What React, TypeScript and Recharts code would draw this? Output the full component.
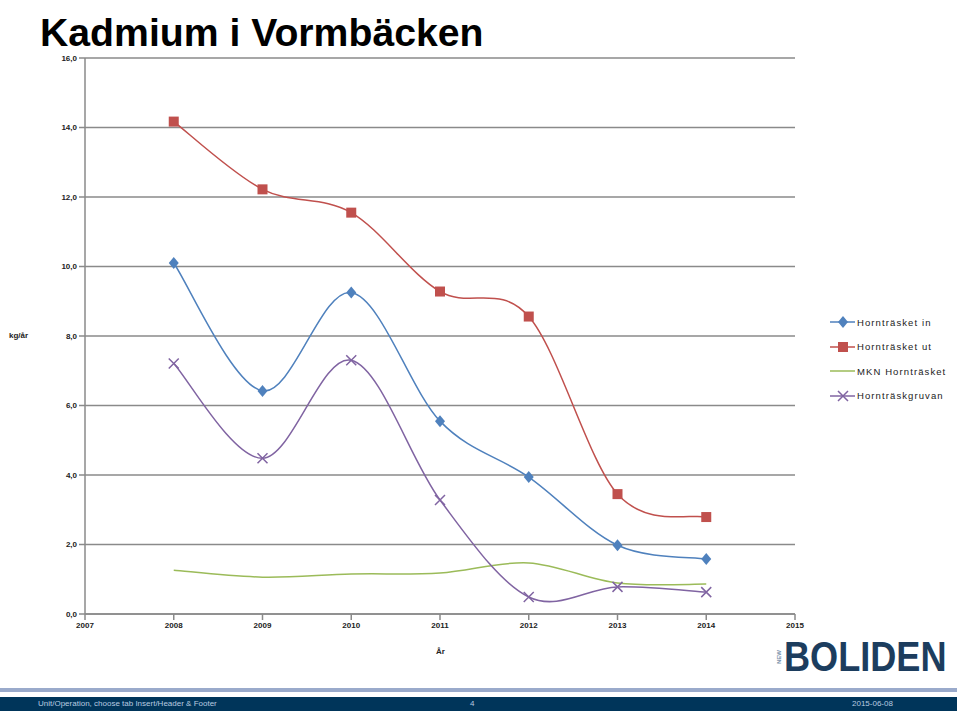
import { LineChart, Line, XAxis, YAxis, CartesianGrid } from 'recharts'

const years = [2008, 2009, 2010, 2011, 2012, 2013, 2014]
const hornIn = [10.1, 6.42, 9.25, 5.55, 3.94, 1.98, 1.58]
const hornUt = [14.17, 12.22, 11.55, 9.28, 8.56, 3.45, 2.79]
const mknHorn = [1.26, 1.06, 1.15, 1.18, 1.47, 0.89, 0.86]
const gruvan = [7.21, 4.48, 7.3, 3.28, 0.49, 0.78, 0.63]

const xTicks = [2007, 2008, 2009, 2010, 2011, 2012, 2013, 2014, 2015]
const yTicks = [0, 2, 4, 6, 8, 10, 12, 14, 16]

const data = years.map((year, i) => ({
  year,
  in: hornIn[i],
  ut: hornUt[i],
  mkn: mknHorn[i],
  gruvan: gruvan[i],
}))

const series = [
  { key: 'in', name: 'Hornträsket in', color: '#4F81BD', marker: 'diamond' },
  { key: 'ut', name: 'Hornträsket ut', color: '#C0504D', marker: 'square' },
  { key: 'mkn', name: 'MKN Hornträsket', color: '#9BBB59', marker: 'none' },
  { key: 'gruvan', name: 'Hornträskgruvan', color: '#8064A2', marker: 'x' },
]

// Excel-like smoothed line (Catmull-Rom through the points)
function excelSmooth(context: any) {
  let pts: number[][] = []
  return {
    areaStart() {},
    areaEnd() {},
    lineStart() {
      pts = []
    },
    point(x: number, y: number) {
      pts.push([+x, +y])
    },
    lineEnd() {
      if (!pts.length) return
      context.moveTo(pts[0][0], pts[0][1])
      for (let i = 0; i < pts.length - 1; i++) {
        const p0 = pts[i - 1] || pts[i]
        const p1 = pts[i]
        const p2 = pts[i + 1]
        const p3 = pts[i + 2] || pts[i + 1]
        context.bezierCurveTo(
          p1[0] + (p2[0] - p0[0]) / 6,
          p1[1] + (p2[1] - p0[1]) / 6,
          p2[0] - (p3[0] - p1[0]) / 6,
          p2[1] - (p3[1] - p1[1]) / 6,
          p2[0],
          p2[1]
        )
      }
    },
  }
}

function Marker({ cx, cy, type, color }: { cx: number; cy: number; type: string; color: string }) {
  if (cx == null || cy == null) return null
  if (type === 'diamond')
    return <path d={`M${cx},${cy - 6}L${cx + 5},${cy}L${cx},${cy + 6}L${cx - 5},${cy}Z`} fill={color} />
  if (type === 'square') return <rect x={cx - 5} y={cy - 5} width={10} height={10} fill={color} />
  if (type === 'x')
    return (
      <path
        d={`M${cx - 5},${cy - 5}L${cx + 5},${cy + 5}M${cx - 5},${cy + 5}L${cx + 5},${cy - 5}`}
        stroke={color}
        strokeWidth={1.5}
      />
    )
  return null
}

function LegendBox() {
  return (
    <div
      style={{
        position: 'absolute',
        left: 829,
        top: 310,
        width: 128,
        overflow: 'hidden',
        fontSize: 9.5,
        letterSpacing: 1.1,
        color: '#222',
      }}
    >
      {series.map((s) => (
        <div key={s.key} style={{ display: 'flex', alignItems: 'center', height: 24.5, whiteSpace: 'nowrap' }}>
          <svg width={27} height={12}>
            <line x1={1} y1={6} x2={26} y2={6} stroke={s.color} strokeWidth={1.5} />
            <Marker cx={14} cy={6} type={s.marker} color={s.color} />
          </svg>
          <span style={{ marginLeft: 1 }}>{s.name}</span>
        </div>
      ))}
    </div>
  )
}

const fmt = (v: number) => v.toFixed(1).replace('.', ',')

export default function App() {
  return (
    <div
      style={{
        position: 'absolute',
        left: 0,
        top: 0,
        width: 957,
        height: 711,
        overflow: 'hidden',
        background: '#fff',
        fontFamily: 'Liberation Sans, Arial, sans-serif',
      }}
    >
      <div style={{ position: 'absolute', left: 40, top: 11, fontSize: 39.2, fontWeight: 'bold', color: '#000', lineHeight: '44px' }}>
        Kadmium i Vormbäcken
      </div>
      <div style={{ position: 'absolute', left: 9, top: 331, fontSize: 8, fontWeight: 'bold', color: '#222' }}>kg/år</div>
      <div style={{ position: 'absolute', left: 436, top: 647, fontSize: 8, fontWeight: 'bold', color: '#222' }}>År</div>

      <div style={{ position: 'absolute', left: 0, top: 0 }}>
        <LineChart width={957} height={711} data={data} margin={{ top: 58, right: 162, bottom: 57, left: 45 }}>
          <CartesianGrid vertical={false} stroke="#8a8a8a" strokeWidth={1.5} />
          <XAxis
            dataKey="year"
            type="number"
            domain={[2007, 2015]}
            ticks={xTicks}
            height={40}
            stroke="#8a8a8a"
            strokeWidth={1.5}
            tickSize={6}
            tick={{ fontSize: 8, fill: '#222', fontWeight: 'bold' }}
          />
          <YAxis
            domain={[0, 16]}
            ticks={yTicks}
            width={40}
            stroke="#8a8a8a"
            strokeWidth={1.5}
            tickSize={6}
            tickFormatter={fmt}
            tick={{ fontSize: 8, fill: '#222', fontWeight: 'bold' }}
          />
          {series.map((s) => (
            <Line
              key={s.key}
              dataKey={s.key}
              name={s.name}
              type={excelSmooth as any}
              stroke={s.color}
              strokeWidth={1.5}
              isAnimationActive={false}
              dot={(p: any) => <Marker key={`${s.key}-${p.index}`} cx={p.cx} cy={p.cy} type={s.marker} color={s.color} />}
              activeDot={false}
            />
          ))}
        </LineChart>
      </div>

      <LegendBox />

      <div style={{ position: 'absolute', left: 776, top: 638, display: 'flex', alignItems: 'center', color: '#1c3d5e' }}>
        <div
          style={{
            fontSize: 6,
            writingMode: 'vertical-rl',
            transform: 'rotate(180deg)',
            color: '#7d93ad',
            fontWeight: 'bold',
            marginRight: 2,
          }}
        >
          NEW
        </div>
        <div
          style={{
            fontSize: 42,
            fontWeight: 'bold',
            lineHeight: '38px',
            transform: 'scaleX(0.86)',
            transformOrigin: 'left center',
          }}
        >
          BOLIDEN
        </div>
      </div>

      <div style={{ position: 'absolute', left: 0, top: 688, width: 957, height: 4, background: '#9aaacb' }} />
      <div style={{ position: 'absolute', left: 0, top: 697, width: 957, height: 14, background: '#00355a' }}>
        <span style={{ position: 'absolute', left: 38, top: 2, fontSize: 8, color: '#b8cbe0' }}>
          Unit/Operation, choose tab Insert/Header &amp; Footer
        </span>
        <span style={{ position: 'absolute', left: 470, top: 2, fontSize: 8, color: '#b8cbe0' }}>4</span>
        <span style={{ position: 'absolute', left: 852, top: 2, fontSize: 8, color: '#b8cbe0' }}>2015-06-08</span>
      </div>
    </div>
  )
}
